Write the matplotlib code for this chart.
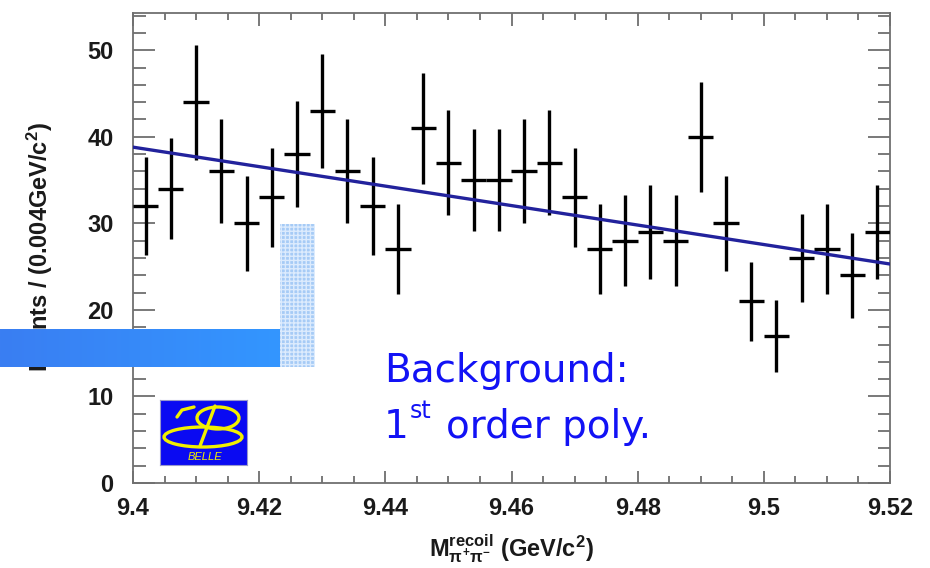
import matplotlib
matplotlib.use('Agg')
import matplotlib.pyplot as plt
import matplotlib.ticker as mtick
from matplotlib.patches import Rectangle, Ellipse
import numpy as np

plt.rcParams['font.family'] = ['Liberation Sans', 'DejaVu Sans']
plt.rcParams['mathtext.fontset'] = 'custom'
plt.rcParams['mathtext.rm'] = 'Liberation Sans:bold'
plt.rcParams['mathtext.it'] = 'Liberation Sans:bold'
plt.rcParams['mathtext.bf'] = 'Liberation Sans:bold'

# recoil mass bins (bin centres, GeV/c^2) and event counts
mass = [9.402, 9.406, 9.410, 9.414, 9.418, 9.422, 9.426, 9.430, 9.434, 9.438,
        9.442, 9.446, 9.450, 9.454, 9.458, 9.462, 9.466, 9.470, 9.474, 9.478,
        9.482, 9.486, 9.490, 9.494, 9.498, 9.502, 9.506, 9.510, 9.514, 9.518]
counts = [32, 34, 44, 36, 30, 33, 38, 43, 36, 32,
          27, 41, 37, 35, 35, 36, 37, 33, 27, 28,
          29, 28, 40, 30, 21, 17, 26, 27, 24, 29]
half_bin = 0.002

# 1st order polynomial background
fit_x = [9.40, 9.52]
fit_y = [38.8, 25.3]

W, H = 930, 568
fig = plt.figure(figsize=(W / 100, H / 100), dpi=100)
fig.patch.set_facecolor('white')
ax = fig.add_axes([133 / W, 1 - 483 / H, (890 - 133) / W, (483 - 13) / H])

ax.errorbar(mass, counts, yerr=np.sqrt(counts), xerr=half_bin, fmt='none',
            ecolor='black', elinewidth=2.4, capsize=0, zorder=3)
ax.plot(fit_x, fit_y, color='#22229c', lw=2.4, zorder=4)

ax.set_xlim(9.4, 9.52)
ax.set_ylim(0, 54.3)
ax.xaxis.set_major_locator(mtick.MultipleLocator(0.02))
ax.xaxis.set_minor_locator(mtick.MultipleLocator(0.005))
ax.yaxis.set_major_locator(mtick.MultipleLocator(10))
ax.yaxis.set_minor_locator(mtick.MultipleLocator(2))
ax.xaxis.set_major_formatter(mtick.FuncFormatter(lambda v, p: ('%.2f' % v).rstrip('0').rstrip('.')))

for s in ax.spines.values():
    s.set_color('#707070')
    s.set_linewidth(1.3)
ax.tick_params(which='both', direction='in', top=True, right=True, color='#555555', width=1.1)
ax.tick_params(axis='x', which='major', length=9, pad=10, labelsize=17)
ax.tick_params(axis='x', which='minor', length=5)
ax.tick_params(axis='y', which='major', length=16, pad=14, labelsize=17)
ax.tick_params(axis='y', which='minor', length=9)
for lab in ax.get_xticklabels() + ax.get_yticklabels():
    lab.set_fontweight('bold')
    lab.set_color('#1a1a1a')

fig.text(40 / W, 1 - 247 / H, 'Events / (0.004GeV/c$^{2}$)', rotation=90,
         ha='center', va='center', fontsize=17, fontweight='bold', color='#1a1a1a')
fig.text(511 / W, 1 - 549 / H,
         r'M$_{\pi^{+}\pi^{-}}^{\mathrm{recoil}}$ (GeV/c$^{2}$)',
         ha='center', va='center', fontsize=17, fontweight='bold', color='#1a1a1a')

# slide decorations: gradient bar and checkered block
gax = fig.add_axes([0, 1 - 367 / H, 280 / W, 38 / H], zorder=5)
grad = np.linspace(0, 1, 256)[None, :, None]
c0 = np.array([0x3a, 0x7e, 0xf2]) / 255
c1 = np.array([0x33, 0x96, 0xff]) / 255
gax.imshow(c0 + (c1 - c0) * grad, aspect='auto', extent=[0, 1, 0, 1])
gax.set_axis_off()

fig.add_artist(Rectangle((280 / W, 1 - 367 / H), 35 / W, 143 / H,
                         transform=fig.transFigure, facecolor='#a6cbf6',
                         edgecolor='#dcebfd', hatch='++++', lw=0, zorder=6))

# experiment logo, drawn in a small axes with pixel-like units
lax = fig.add_axes([160 / W, 1 - 465 / H, 87 / W, 65 / H], zorder=6)
lax.set_xlim(0, 87)
lax.set_ylim(65, 0)
lax.set_facecolor('#0a0af2')
lax.set_xticks([])
lax.set_yticks([])
for s in lax.spines.values():
    s.set_color('#9999cc')
    s.set_linewidth(0.8)
yel = '#f2f000'
lax.add_patch(Ellipse((43, 37), 78, 20, fill=False, ec=yel, lw=2.4))
lax.add_patch(Ellipse((58, 18), 42, 22, fill=False, ec=yel, lw=2.4))
lax.plot([55, 40], [6, 46], color=yel, lw=2.4, solid_capstyle='round')
lax.plot([17, 22, 34], [17, 10, 7], color=yel, lw=2.4, solid_capstyle='round')
lax.text(45, 57, 'BELLE', fontsize=8, style='italic', color=yel,
         ha='center', va='center')

# annotation
blue = '#1212f5'
txt = dict(family='DejaVu Sans', color=blue, ha='left', va='baseline', zorder=7)
fig.text(384 / W, 1 - 382 / H, 'Background:', fontsize=28, **txt)
renderer = fig.canvas.get_renderer()
t1 = fig.text(384 / W, 1 - 438 / H, '1', fontsize=28, **txt)
x1 = t1.get_window_extent(renderer).x1
t2 = fig.text(x1 / W + 1 / W, 1 - 418 / H, 'st', fontsize=17, **txt)
x2 = t2.get_window_extent(renderer).x1
fig.text(x2 / W + 14 / W, 1 - 438 / H, 'order poly.', fontsize=28, **txt)

fig.savefig('out.png', dpi=100)
